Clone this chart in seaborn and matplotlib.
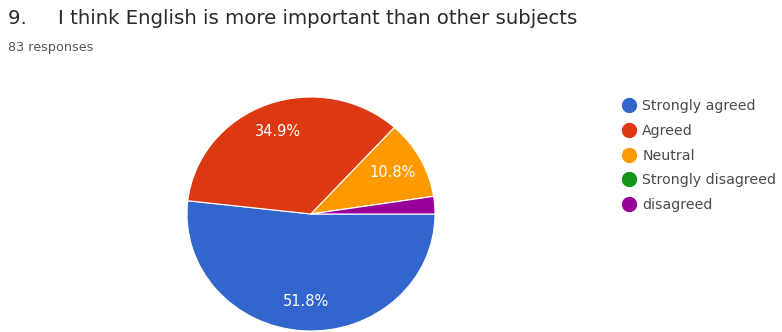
import matplotlib.pyplot as plt
import seaborn as sns
from matplotlib.lines import Line2D

# data
answers = ['Strongly agreed', 'Agreed', 'Neutral', 'Strongly disagreed', 'disagreed']
counts = [43, 29, 9, 0, 2]
colors = ['#3366cc', '#dc3912', '#ff9900', '#109618', '#990099']
total_label = '83 responses'
question = '9.     I think English is more important than other subjects'

sns.set_theme(style='white')
plt.rcParams['font.family'] = ['DejaVu Sans']

W, H = 782, 332
fig = plt.figure(figsize=(W / 100, H / 100), dpi=100)
fig.patch.set_facecolor('white')

# pie centred at ~(311, 213) px, slightly squashed like the screenshot
cx, cy, rx, ry = 311, 214, 124, 117
ax = fig.add_axes([(cx - rx) / W, (H - cy - ry) / H, 2 * rx / W, 2 * ry / H])
wedges, texts, autotexts = ax.pie(
    counts, colors=colors, startangle=0, counterclock=False,
    autopct=lambda p: f'{p:.1f}%' if p > 5 else '',
    pctdistance=0.75,
    wedgeprops=dict(edgecolor='white', linewidth=0.8),
    textprops=dict(color='white', fontsize=10.5),
)
ax.set_aspect('auto')
ax.set_xlim(-1.0, 1.0)
ax.set_ylim(-1.0, 1.0)
ax.axis('off')

fig.text(8 / W, 1 - 18 / H, question, fontsize=14.2, color='#2a2a2a', va='center', ha='left')
fig.text(8 / W, 1 - 47 / H, total_label, fontsize=9.2, color='#555555', va='center', ha='left')

handles = [Line2D([0], [0], marker='o', linestyle='', markersize=10,
                  markerfacecolor=c, markeredgecolor=c) for c in colors]
fig.legend(handles, answers, loc='upper left', bbox_to_anchor=(611 / W, 1 - 92 / H),
           frameon=False, fontsize=10.2, labelspacing=0.76, handletextpad=0.2,
           handlelength=1.5, labelcolor='#4a4a4a', borderpad=0)

fig.savefig('out.png', dpi=100, facecolor='white')
